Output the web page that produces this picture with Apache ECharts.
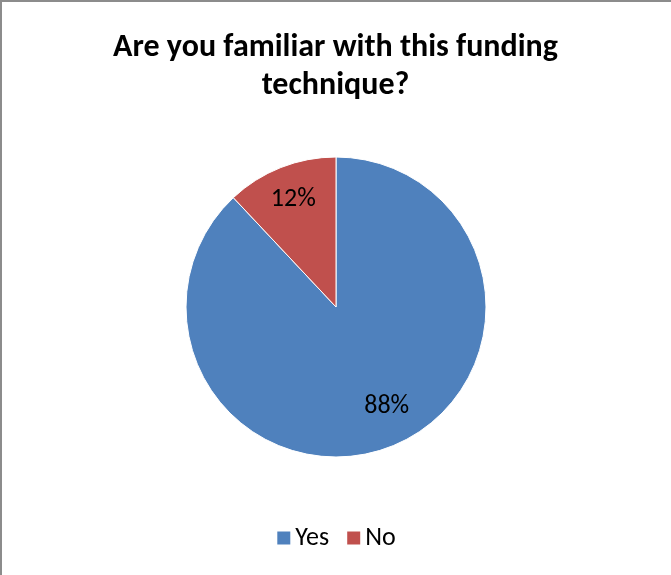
<!DOCTYPE html>
<html>
<head>
<meta charset="utf-8">
<script src="https://cdn.jsdelivr.net/npm/echarts@6/dist/echarts.min.js"></script>
<style>
  html, body { margin: 0; padding: 0; background: #fff; }
  #chart { position: absolute; left: 0; top: 0; width: 671px; height: 575px; }
  #frame { position: absolute; left: 0; top: 0; width: 671px; height: 575px; pointer-events: none;
           box-sizing: border-box; border-top: 2px solid #8c8c8c; border-left: 2px solid #8c8c8c; }
</style>
</head>
<body>
<div id="chart"></div>
<div id="frame"></div>
<script>
// Survey answers and their shares (percent)
const categories = ['Yes', 'No'];
const shares = [88, 12];
const colors = ['#4F81BD', '#C0504D'];
// small nudges for the percent labels, in pixels
const labelNudges = [[8, -8], [0, 0]];

const pieData = categories.map((name, i) => ({ name, value: shares[i], itemStyle: { color: colors[i] } }));
const font = 'Carlito, Calibri, "Open Sans", sans-serif';
const center = [336, 307];

const chart = echarts.init(document.getElementById('chart'), null, { renderer: 'canvas' });
chart.setOption({
  animation: false,
  title: {
    text: 'Are you familiar with this funding\ntechnique?',
    left: 'center',
    top: 24,
    textStyle: { fontFamily: font, fontSize: 32, fontWeight: 'bold', color: '#000', lineHeight: 38 }
  },
  legend: {
    data: categories,
    bottom: 19,
    left: 'center',
    icon: 'rect',
    itemWidth: 15,
    itemHeight: 15,
    itemGap: 16,
    textStyle: { fontFamily: font, fontSize: 26, color: '#000', padding: [0, 0, 0, -1] }
  },
  series: [
    {
      type: 'pie',
      center: center,
      radius: [0, 150],
      startAngle: 90,
      clockwise: true,
      data: pieData,
      label: { show: false },
      labelLine: { show: false },
      itemStyle: { borderColor: '#fff', borderWidth: 1 }
    },
    {
      // transparent ring used only to place the percent labels at three quarters of the radius
      type: 'pie',
      center: center,
      radius: [76, 150],
      startAngle: 90,
      clockwise: true,
      silent: true,
      legendHoverLink: false,
      data: pieData.map((d, i) => ({
        name: d.name,
        value: d.value,
        itemStyle: { color: 'rgba(0,0,0,0)' },
        label: { offset: labelNudges[i] }
      })),
      label: {
        show: true,
        position: 'inside',
        formatter: p => p.value + '%',
        fontFamily: font,
        fontSize: 26,
        color: '#000'
      },
      labelLine: { show: false }
    }
  ]
});
</script>
</body>
</html>
